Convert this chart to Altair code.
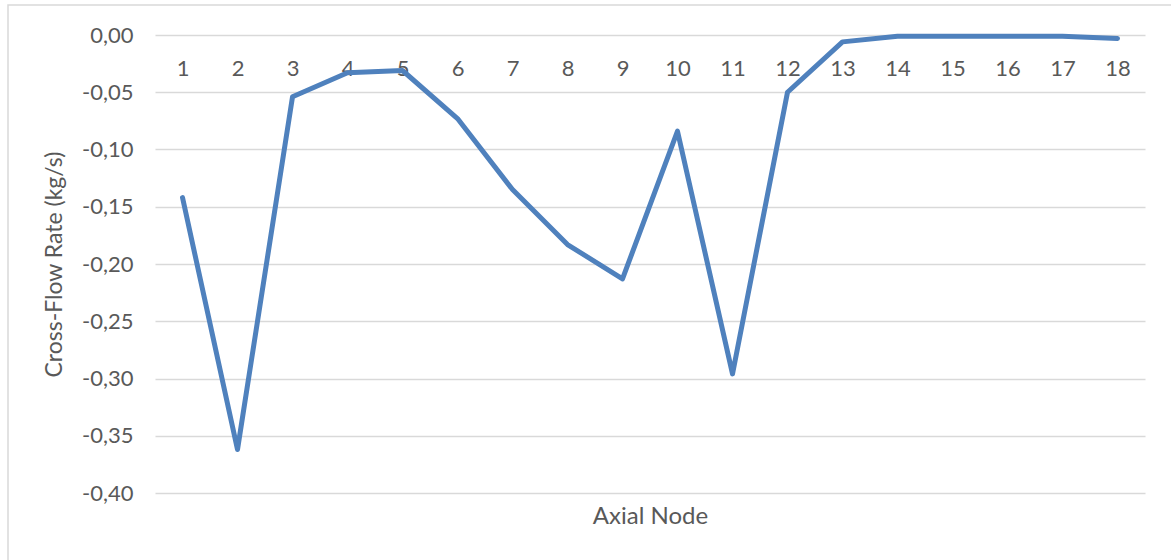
import altair as alt
import pandas as pd

nodes = list(range(1, 19))
flow = [-0.142, -0.362, -0.054, -0.033, -0.031, -0.073, -0.135, -0.183, -0.213,
        -0.084, -0.296, -0.050, -0.006, -0.001, -0.001, -0.001, -0.001, -0.003]
y_ticks = [0.0, -0.05, -0.10, -0.15, -0.20, -0.25, -0.30, -0.35, -0.40]

df = pd.DataFrame({"node": nodes, "flow": flow})

FONT = "Lato"
TXT = "#595959"
GRID = "#D9D9D9"
LINE = "#4F81BD"

xscale = alt.Scale(type="point", padding=0.5)
yscale = alt.Scale(domain=[-0.4, 0.0], nice=False, zero=False)

label_expr = "replace(replace(format(datum.value, '.2f'), '.', ','), '\u2212', '-')"

yaxis = alt.Axis(values=y_ticks, labelExpr=label_expr, title="Cross-Flow Rate (kg/s)",
                 grid=True, gridColor=GRID, gridWidth=1.3, domain=False, ticks=False,
                 labelPadding=22, labelFont=FONT, labelFontSize=22, labelColor=TXT,
                 titleFont=FONT, titleFontSize=23, titleColor=TXT,
                 titleFontWeight="normal", titlePadding=15)

line = alt.Chart(df).mark_line(color=LINE, strokeWidth=5, strokeCap="round", strokeJoin="round").encode(
    x=alt.X("node:O", scale=xscale,
            axis=alt.Axis(orient="top", title=None, labelAngle=0, ticks=False, tickSize=0,
                          domain=False, labelPadding=-33, labelBaseline="middle",
                          labelFont=FONT, labelFontSize=22, labelColor=TXT)),
    y=alt.Y("flow:Q", scale=yscale, axis=yaxis),
)

title_layer = alt.Chart(df).mark_line(opacity=0).encode(
    x=alt.X("node:O", scale=xscale,
            axis=alt.Axis(orient="bottom", title="Axial Node", labels=False, ticks=False,
                          domain=False, grid=False, titleFont=FONT, titleFontSize=24,
                          titleColor=TXT, titleFontWeight="normal", titlePadding=11)),
    y=alt.Y("flow:Q", scale=yscale, axis=yaxis),
)

border = alt.Chart(pd.DataFrame({"a": [0]})).mark_rect(
    fill=None, stroke=GRID, strokeWidth=1.5, clip=False
).encode(
    x=alt.value(-147), x2=alt.value(1100), y=alt.value(-30), y2=alt.value(600)
)

chart = alt.layer(border, line, title_layer).resolve_axis(x="independent").properties(
    width=990, height=458,
    autosize=alt.AutoSizeParams(type="none"),
    padding={"left": 155, "top": 35, "right": 26, "bottom": 67},
).configure_view(stroke=None)

chart.save("out.html", embed_options={"renderer": "svg", "actions": False})
